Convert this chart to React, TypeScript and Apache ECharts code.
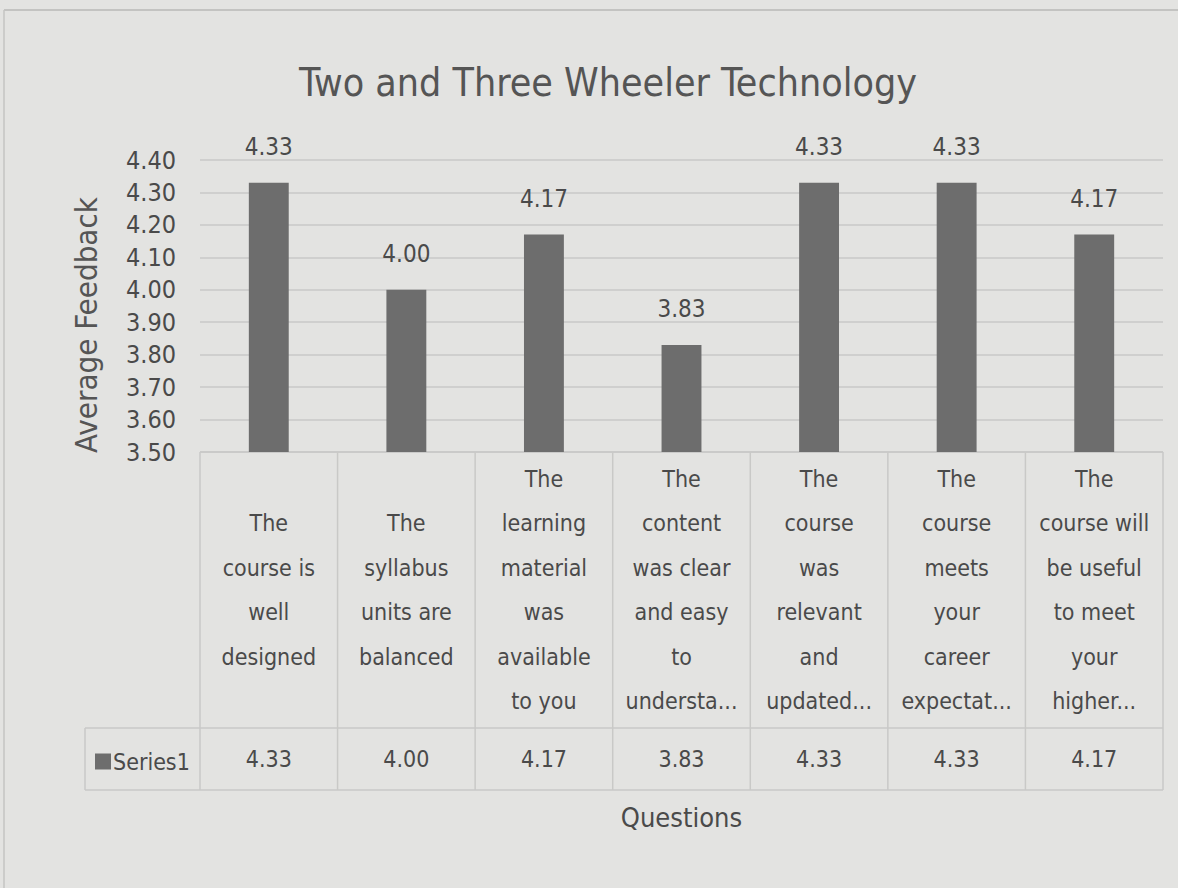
import React, { useEffect, useRef } from "react";
import * as echarts from "echarts";

const chartTitle = "Two and Three Wheeler Technology";
const seriesName = "Series1";
const yAxisTitle = "Average Feedback";
const xAxisTitle = "Questions";
const categories = [
  "The\ncourse is\nwell\ndesigned",
  "The\nsyllabus\nunits are\nbalanced",
  "The\nlearning\nmaterial\nwas\navailable\nto you",
  "The\ncontent\nwas clear\nand easy\nto\nundersta...",
  "The\ncourse\nwas\nrelevant\nand\nupdated...",
  "The\ncourse\nmeets\nyour\ncareer\nexpectat...",
  "The\ncourse will\nbe useful\nto meet\nyour\nhigher...",
];
const values = [4.33, 4.0, 4.17, 3.83, 4.33, 4.33, 4.17];
const yMin = 3.5;
const yMax = 4.4;
const yInterval = 0.1;

const FONT = "'Liberation Sans Narrow', 'DejaVu Sans Condensed', 'Open Sans', sans-serif";
const TEXT = "#4a4a4a";
const LINE = "#c9c9c7";

// layout
const W = 1178;
const H = 888;
const gridLeft = 200;
const gridRightX = 1163;
const gridTop = 160;
const gridBottomY = 452;
const headerBottomY = 728;
const tableBottomY = 790;
const legendLeftX = 85;

export default function App() {
  const ref = useRef<HTMLDivElement>(null);
  useEffect(() => {
    document.body.style.margin = "0";
    const chart = echarts.init(ref.current!, null, { renderer: "svg" });
    const n = categories.length;
    const colW = (gridRightX - gridLeft) / n;
    const els: any[] = [];
    const ln = (x1: number, y1: number, x2: number, y2: number, stroke = LINE) =>
      els.push({
        type: "line",
        shape: { x1, y1, x2, y2 },
        style: { stroke, lineWidth: 1.5 },
        silent: true,
      });
    for (let i = 0; i <= n; i++) {
      const x = gridLeft + i * colW;
      ln(x, gridBottomY, x, tableBottomY);
    }
    ln(legendLeftX, headerBottomY, legendLeftX, tableBottomY);
    ln(gridLeft, gridBottomY, gridRightX, gridBottomY);
    ln(legendLeftX, headerBottomY, gridRightX, headerBottomY);
    ln(legendLeftX, tableBottomY, gridRightX, tableBottomY);
    // photo frame edges
    ln(4, 10, W, 10, "#b8b8b6");
    ln(4, 10, 4, H, "#c4c4c2");
    // y axis title
    els.push({
      type: "text",
      x: 86,
      y: 325,
      rotation: Math.PI / 2,
      silent: true,
      style: {
        text: yAxisTitle,
        align: "center",
        verticalAlign: "middle",
        fontFamily: FONT,
        fontSize: 31,
        fill: "#555",
      },
    });

    chart.setOption({
      animation: false,
      backgroundColor: "#e3e3e1",
      title: {
        text: chartTitle,
        left: 603,
        textAlign: "center",
        top: 58,
        textStyle: {
          fontFamily: FONT,
          fontSize: 39,
          fontWeight: "normal",
          color: "#555",
        },
      },
      legend: {
        left: 90,
        top: 745,
        itemWidth: 16,
        itemHeight: 16,
        icon: "rect",
        itemGap: 4,
        textStyle: { fontFamily: FONT, fontSize: 23, color: TEXT, padding: [0, 0, 0, -3] },
        data: [seriesName],
      },
      grid: {
        left: gridLeft,
        right: W - gridRightX,
        top: gridTop,
        bottom: H - gridBottomY,
        containLabel: false,
      },
      xAxis: [
        {
          type: "category",
          data: categories,
          position: "bottom",
          axisLine: { show: false },
          axisTick: { show: false },
          axisLabel: {
            interval: 0,
            margin: (headerBottomY - gridBottomY) / 2,
            verticalAlign: "middle",
            align: "center",
            fontFamily: FONT,
            fontSize: 23,
            lineHeight: 44.5,
            color: TEXT,
          },
        },
        {
          type: "category",
          data: values.map((v) => v.toFixed(2)),
          position: "bottom",
          axisLine: { show: false },
          axisTick: { show: false },
          name: xAxisTitle,
          nameLocation: "middle",
          nameGap: 817 - gridBottomY,
          nameTextStyle: { fontFamily: FONT, fontSize: 27, color: TEXT, verticalAlign: "middle" },
          axisLabel: {
            interval: 0,
            margin: (headerBottomY + tableBottomY) / 2 - gridBottomY,
            verticalAlign: "middle",
            align: "center",
            fontFamily: FONT,
            fontSize: 23,
            color: TEXT,
          },
        },
      ],
      yAxis: {
        type: "value",
        min: yMin,
        max: yMax,
        interval: yInterval,
        axisLine: { show: false },
        axisTick: { show: false },
        axisLabel: {
          margin: 24,
          fontFamily: FONT,
          fontSize: 25,
          color: TEXT,
          formatter: (v: number) => v.toFixed(2),
        },
        splitLine: { lineStyle: { color: LINE, width: 1.5 } },
      },
      series: [
        {
          name: seriesName,
          type: "bar",
          data: values,
          barWidth: "29%",
          itemStyle: { color: "#6d6d6d" },
          label: {
            show: true,
            position: "top",
            distance: 24,
            formatter: (p: any) => Number(p.value).toFixed(2),
            fontFamily: FONT,
            fontSize: 24,
            color: TEXT,
          },
        },
      ],
      graphic: els,
    });
    return () => chart.dispose();
  }, []);
  return <div ref={ref} style={{ width: W, height: H }} />;
}
